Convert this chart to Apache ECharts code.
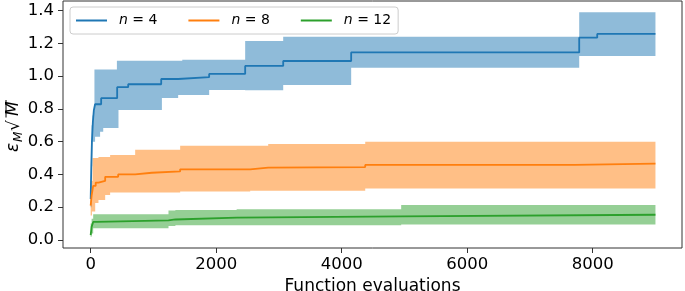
<!DOCTYPE html>
<html>
<head>
<meta charset="utf-8">
<script src="https://cdn.jsdelivr.net/npm/echarts@6/dist/echarts.min.js"></script>
<style>
  html, body { margin: 0; padding: 0; background: #fff; }
  #chart { width: 685px; height: 291px; }
</style>
</head>
<body>
<div id="chart"></div>
<script>
// tick labels
const xTicks = [0, 2000, 4000, 6000, 8000];
const yTicks = [0, 0.2, 0.4, 0.6, 0.8, 1.0, 1.2, 1.4];

// n = 4
const lineX4 = [0, 10, 20, 35, 50, 70, 167, 422, 598, 1124, 1394, 1888, 2462, 3068, 4151, 7785, 8072, 9000];
const lineY4 = [0.25, 0.45, 0.6, 0.72, 0.79, 0.828, 0.865, 0.932, 0.95, 0.982, 0.993, 1.013, 1.062, 1.092, 1.144, 1.234, 1.257, 1.257];
const bandX4 = [0, 15, 25, 30, 50, 60, 70, 150, 200, 418, 443, 1135, 1394, 1460, 1888, 2462, 3068, 4151, 7785, 9000];
const bandHi4 = [0.3, 0.7, 0.7, 0.76, 0.79, 1.04, 1.04, 1.04, 1.04, 1.094, 1.094, 1.094, 1.094, 1.10, 1.10, 1.214, 1.24, 1.24, 1.39, 1.39];
const bandLo4 = [0.2, 0.45, 0.6, 0.6, 0.6, 0.6, 0.63, 0.66, 0.683, 0.683, 0.793, 0.866, 0.885, 0.885, 0.915, 0.913, 0.946, 1.051, 1.123, 1.123];

// n = 8
const lineX8 = [0, 15, 40, 80, 124, 231, 438, 709, 975, 1426, 2542, 2829, 4375, 7719, 9000];
const lineY8 = [0.21, 0.27, 0.33, 0.35, 0.36, 0.385, 0.40, 0.41, 0.418, 0.431, 0.441, 0.445, 0.458, 0.466, 0.466];
const bandX8 = [0, 20, 30, 72, 124, 231, 310, 709, 1426, 2542, 2829, 4375, 9000];
const bandHi8 = [0.36, 0.36, 0.5, 0.5, 0.506, 0.506, 0.518, 0.55, 0.575, 0.575, 0.586, 0.6, 0.6];
const bandLo8 = [0.15, 0.173, 0.173, 0.226, 0.244, 0.275, 0.29, 0.29, 0.295, 0.30, 0.30, 0.314, 0.314];

// n = 12
const lineX12 = [0, 15, 40, 100, 1240, 1350, 2326, 4948, 9000];
const lineY12 = [0.03, 0.08, 0.11, 0.12, 0.125, 0.136, 0.144, 0.154, 0.154];
const bandX12 = [0, 15, 40, 1240, 1350, 2326, 4948, 9000];
const bandHi12 = [0.1, 0.13, 0.157, 0.18, 0.183, 0.187, 0.214, 0.214];
const bandLo12 = [0.02, 0.04, 0.071, 0.085, 0.09, 0.09, 0.095, 0.095];

const FONT = "DejaVu Sans";

function zipLine(xs, ys) {
  return xs.map((x, i) => [x, ys[i]]);
}
function zipBand(xs, lo, hi) {
  return xs.map((x, i) => [x, lo[i], hi[i]]);
}
// whole band drawn as one step-shaped polygon from the first item
function renderBand(params, api) {
  if (params.dataIndexInside !== 0) return null;
  const n = params.dataInsideLength;
  const top = [];
  const bottom = [];
  for (let j = 0; j < n; j++) {
    const x = api.value(0, j);
    if (j > 0) {
      top.push(api.coord([x, api.value(2, j - 1)]));
      bottom.push(api.coord([x, api.value(1, j - 1)]));
    }
    top.push(api.coord([x, api.value(2, j)]));
    bottom.push(api.coord([x, api.value(1, j)]));
  }
  return {
    type: "polygon",
    shape: { points: top.concat(bottom.reverse()) },
    style: { fill: api.visual("color"), opacity: 0.5 }
  };
}
function bandSeries(name, color, xs, lo, hi) {
  return {
    name: name,
    type: "custom",
    renderItem: renderBand,
    itemStyle: { color: color },
    encode: { x: 0, y: [1, 2] },
    data: zipBand(xs, lo, hi),
    silent: true
  };
}
function lineSeries(name, color, xs, ys) {
  return {
    name: name,
    type: "line",
    step: "end",
    symbol: "none",
    color: color,
    lineStyle: { width: 1.8, color: color },
    data: zipLine(xs, ys)
  };
}

const chart = echarts.init(document.getElementById("chart"), null, { renderer: "canvas" });

const option = {
  backgroundColor: "#fff",
  animation: false,
  textStyle: { fontFamily: FONT },
  grid: {
    left: 63, right: 3, top: 1, bottom: 43,
    containLabel: false,
    outerBoundsMode: "none",
    show: true, borderColor: "#333", borderWidth: 1, backgroundColor: "transparent"
  },
  legend: {
    data: ["n = 4", "n = 8", "n = 12"],
    left: 70, top: 7,
    orient: "horizontal",
    icon: "rect",
    itemWidth: 31, itemHeight: 2, itemGap: 31,
    padding: [5, 7, 5, 6],
    borderColor: "#ccc", borderWidth: 1, borderRadius: 3,
    backgroundColor: "rgba(255,255,255,0.8)",
    selectedMode: false,
    formatter: function (name) {
      return "{p|}" + name.replace("n", "{i|n}");
    },
    textStyle: {
      fontFamily: FONT, fontSize: 14, color: "#000", lineHeight: 17,
      rich: {
        p: { width: 7 },
        i: { fontStyle: "italic", fontFamily: FONT, fontSize: 14, color: "#000" }
      }
    }
  },
  xAxis: {
    type: "value",
    min: -441, max: 9423,
    name: "Function evaluations",
    nameLocation: "middle",
    nameGap: 26,
    nameTextStyle: { fontFamily: FONT, fontSize: 17, color: "#000" },
    axisLine: { show: false, onZero: false },
    splitLine: { show: false },
    axisTick: { show: true, customValues: xTicks, length: 5, lineStyle: { color: "#333" } },
    axisLabel: {
      customValues: xTicks, fontFamily: FONT, fontSize: 16.5, color: "#000", margin: 8,
      formatter: function (v) { return String(v); }
    }
  },
  yAxis: {
    type: "value",
    min: -0.049, max: 1.458,
    axisLine: { show: false, onZero: false },
    splitLine: { show: false },
    axisTick: { show: true, customValues: yTicks, length: 5, lineStyle: { color: "#333" } },
    axisLabel: {
      customValues: yTicks, fontFamily: FONT, fontSize: 16.5, color: "#000", margin: 9,
      formatter: function (v) { return v.toFixed(1); }
    }
  },
  graphic: [
    {
      type: "group",
      x: 22, y: 125,
      rotation: Math.PI / 2,
      children: [
        { type: "text", x: -27, y: 0, style: { text: "ε", fontFamily: FONT, fontStyle: "italic", fontSize: 17, fill: "#000", align: "left", verticalAlign: "bottom" } },
        { type: "text", x: -17, y: 3, style: { text: "M", fontFamily: FONT, fontStyle: "italic", fontSize: 12, fill: "#000", align: "left", verticalAlign: "bottom" } },
        { type: "text", x: -6, y: 1, style: { text: "√", fontFamily: FONT, fontSize: 17, fill: "#000", align: "left", verticalAlign: "bottom" } },
        { type: "line", shape: { x1: 7.5, y1: -16, x2: 25, y2: -16 }, style: { stroke: "#000", lineWidth: 1 } },
        { type: "text", x: 9, y: 0, style: { text: "M", fontFamily: FONT, fontStyle: "italic", fontSize: 17, fill: "#000", align: "left", verticalAlign: "bottom" } }
      ]
    }
  ],
  series: [
    bandSeries("band4", "#1f77b4", bandX4, bandLo4, bandHi4),
    lineSeries("n = 4", "#1f77b4", lineX4, lineY4),
    bandSeries("band8", "#ff7f0e", bandX8, bandLo8, bandHi8),
    lineSeries("n = 8", "#ff7f0e", lineX8, lineY8),
    bandSeries("band12", "#2ca02c", bandX12, bandLo12, bandHi12),
    lineSeries("n = 12", "#2ca02c", lineX12, lineY12)
  ]
};

chart.setOption(option);
</script>
</body>
</html>
